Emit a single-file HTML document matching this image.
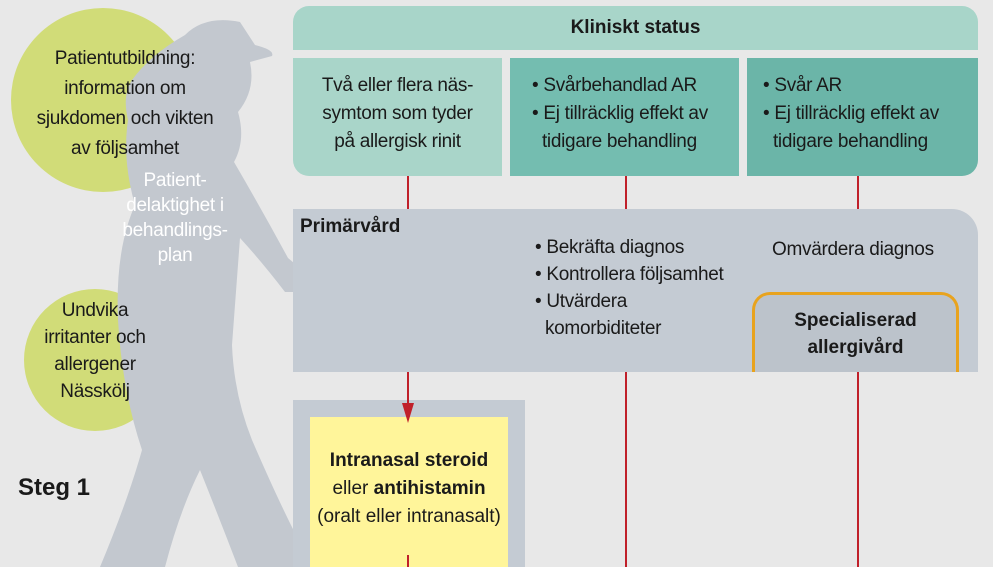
<!DOCTYPE html>
<html><head><meta charset="utf-8"><style>
body{margin:0;width:993px;height:567px;overflow:hidden;background:#e8e8e8;position:relative;font-family:"Liberation Sans Narrow","Liberation Sans",sans-serif;color:#1a1a1a}
div{position:absolute;box-sizing:border-box}
.t{font-size:19px;line-height:28px;letter-spacing:-0.3px}
.c{text-align:center}
</style></head><body>
<svg width="993" height="567" style="position:absolute;left:0;top:0">
<circle cx="103" cy="100" r="92" fill="#d1dc78"/>
<circle cx="95" cy="360" r="71" fill="#d1dc78"/>
<path fill="#c3c8cf" d="M185 35 Q205 15 240 22 L255 45 Q275 50 272 56 L250 62 Q256 90 238 112 Q246 140 234 162 Q262 210 288 258 L300 268 L298 292 L285 292 Q262 262 240 238 L232 345 Q234 395 252 440 Q278 500 296 535 L322 548 L322 567 L238 567 Q220 520 200 470 Q180 510 165 567 L100 567 Q128 500 142 450 Q122 390 118 320 Q115 250 135 205 Q122 160 128 120 Q122 95 132 80 Q150 55 185 35 Z"/>
</svg>
<div class="t c" style="left:30px;top:44px;width:190px;line-height:30px">Patientutbildning:<br>information om<br>sjukdomen och vikten<br>av följsamhet</div>
<div class="t c" style="left:115px;top:168px;width:120px;color:#fff;line-height:25px">Patient-<br>delaktighet i<br>behandlings-<br>plan</div>
<div class="t c" style="left:25px;top:297px;width:140px;line-height:27px">Undvika<br>irritanter och<br>allergener<br>Nässkölj</div>
<div style="left:18px;top:474px;font-size:24px;font-weight:bold">Steg 1</div>

<div style="left:293px;top:6px;width:685px;height:44px;background:#a8d5c9;border-radius:16px 16px 0 0;font-weight:bold;font-size:19px;text-align:center;line-height:44px">Kliniskt status</div>
<div class="t c" style="left:293px;top:58px;width:209px;height:118px;background:#a9d5c9;border-radius:0 0 0 16px;padding-top:14px">Två eller flera näs-<br>symtom som tyder<br>på allergisk rinit</div>
<div class="t" style="left:510px;top:58px;width:229px;height:118px;background:#74bdb0;padding:14px 0 0 22px">• Svårbehandlad AR<br>• Ej tillräcklig effekt av<br>&nbsp;&nbsp;tidigare behandling</div>
<div class="t" style="left:747px;top:58px;width:231px;height:118px;background:#6bb5a8;border-radius:0 0 16px 0;padding:14px 0 0 16px">• Svår AR<br>• Ej tillräcklig effekt av<br>&nbsp;&nbsp;tidigare behandling</div>

<div style="left:293px;top:209px;width:685px;height:163px;background:#c4cbd3;border-radius:0 26px 0 0"></div>
<div style="left:300px;top:216px;font-weight:bold;font-size:19px">Primärvård</div>
<div class="t" style="left:535px;top:234px;line-height:27px">• Bekräfta diagnos<br>• Kontrollera följsamhet<br>• Utvärdera<br>&nbsp;&nbsp;komorbiditeter</div>
<div class="t" style="left:772px;top:236px">Omvärdera diagnos</div>
<div class="c" style="left:752px;top:292px;width:207px;height:80px;border:3px solid #e8a31e;border-bottom:none;border-radius:18px 18px 0 0;background:#bcc3cb;font-weight:bold;font-size:19px;line-height:27px;padding-top:12px">Specialiserad<br>allergivård</div>

<div style="left:293px;top:400px;width:232px;height:167px;background:#c4cbd3"></div>
<div class="c" style="left:310px;top:417px;width:198px;height:150px;background:#fff59a;font-size:19px;line-height:28px;padding-top:30px"><b>Intranasal steroid</b><br>eller <b>antihistamin</b><br>(oralt eller intranasalt)</div>

<svg width="993" height="567" style="position:absolute;left:0;top:0">
<g stroke="#c0202a" stroke-width="2">
<line x1="408" y1="176" x2="408" y2="209"/><line x1="408" y1="372" x2="408" y2="408"/><line x1="408" y1="555" x2="408" y2="567"/>
<line x1="626" y1="176" x2="626" y2="209"/><line x1="626" y1="372" x2="626" y2="567"/>
<line x1="858" y1="176" x2="858" y2="209"/><line x1="858" y1="372" x2="858" y2="567"/>
</g>
<polygon points="402,403 414,403 408,423" fill="#c0202a"/>
</svg>
</body></html>
